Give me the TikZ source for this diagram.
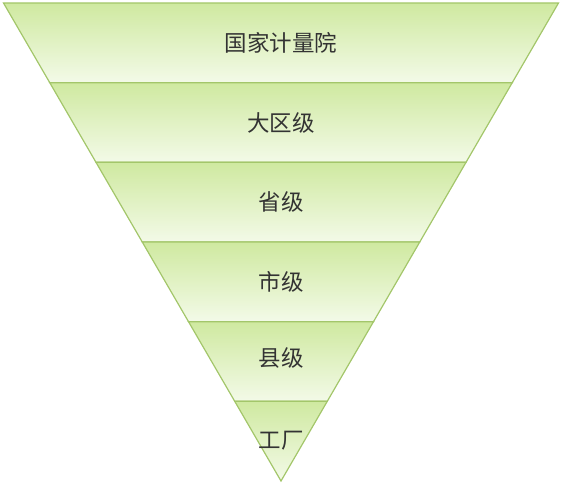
\documentclass[tikz,border=0pt]{standalone}
\usepackage{fontspec}
\newfontfamily\cjk{Noto Sans CJK SC}
\usetikzlibrary{calc}
\definecolor{bandtop}{HTML}{CFE9A0}
\definecolor{bandbot}{HTML}{F3FAE8}
\definecolor{edgegreen}{HTML}{A3C66A}
\begin{document}
\begin{tikzpicture}[x=1pt,y=-1pt,
  band/.style={draw=edgegreen, line width=1.2pt, top color=bandtop, bottom color=bandbot, line join=miter},
  lbl/.style={font=\cjk\fontsize{22.5}{22.5}\selectfont, text=black!80, inner sep=0pt}]
\useasboundingbox (0,0) rectangle (562,484);
\coordinate (TL) at (3.5,3);
\coordinate (TR) at (558.5,3);
\coordinate (M) at (281,3);
\coordinate (A) at (281,481);
\foreach \i in {0,...,5}{
  \pgfmathsetmacro\a{\i/6}
  \pgfmathsetmacro\b{(\i+1)/6}
  \path[band] ($(TL)!\a!(A)$) -- ($(TR)!\a!(A)$) -- ($(TR)!\b!(A)$) -- ($(TL)!\b!(A)$) -- cycle;
}
\node[lbl] (n1) at ($(M)!0.5/6!(A)$) {国家计量院};
\node[lbl] (n2) at ($(M)!1.5/6!(A)$) {大区级};
\node[lbl] (n3) at ($(M)!2.5/6!(A)$) {省级};
\node[lbl] (n4) at ($(M)!3.5/6!(A)$) {市级};
\node[lbl] (n5) at ($(M)!4.45/6!(A)$) {县级};
\node[lbl] (n6) at ($(M)!5.5/6!(A)$) {工厂};
\end{tikzpicture}
\end{document}
